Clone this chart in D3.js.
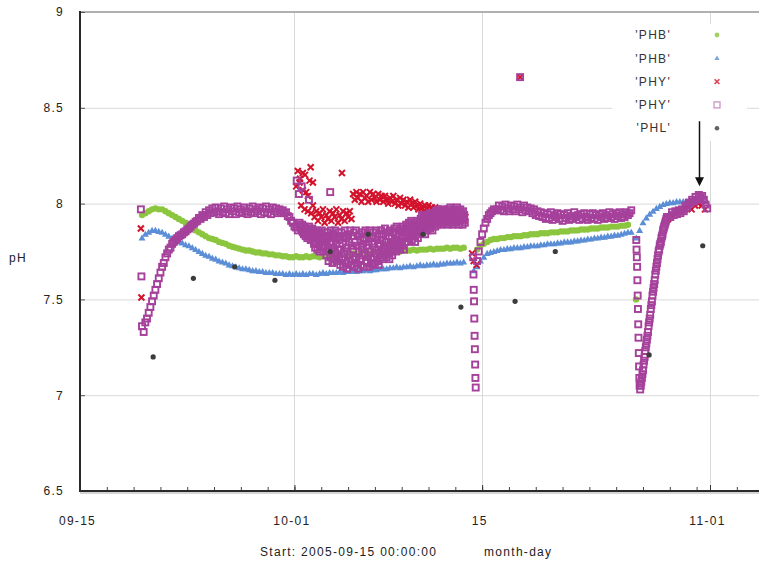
<!DOCTYPE html>
<html>
<head>
<meta charset="utf-8">
<script src="https://cdn.jsdelivr.net/npm/d3@7"></script>
<style>
  body { margin: 0; background: #fff; }
  svg { display: block; font-family: "Liberation Sans", Arial, sans-serif; }
</style>
</head>
<body>
<svg id="chart" width="759" height="562"></svg>
<script>
// ---- axis ticks and labels ----
const yTicks = [6.5, 7, 7.5, 8, 8.5, 9];
const xMajorTicks = ["2005-09-15 00:00", "2005-10-01 00:00", "2005-10-15 00:00", "2005-11-01 00:00"];
const xMajorLabels = ["09-15", "10-01", "15", "11-01"];
const seriesNames = ["'PHB'", "'PHB'", "'PHY'", "'PHY'", "'PHL'"];

// ---- readings: each segment = first timestamp, sampling interval (hours), values ----
const phbGreen = [
  { start: "2005-09-19 15:00", step: 6, values: [
    7.94,7.95,7.96,7.97,7.975, 7.97,7.97,7.96,7.95,7.94, 7.93,7.92,7.91,7.90,7.89,
    7.875,7.86,7.85,7.84,7.83, 7.82,7.815,7.81,7.80,7.795, 7.79,7.78,7.775,7.77,7.765,
    7.76,7.755,7.755,7.75,7.745, 7.745,7.74,7.74,7.735,7.735, 7.73,7.73,7.725,7.725,7.72,
    7.72,7.725,7.72,7.72,7.725, 7.72,7.725,7.725,7.72,7.725, 7.73,7.725,7.73,7.73,7.735,
    7.73,7.735,7.735,7.74,7.735, 7.74,7.74,7.745,7.74,7.745, 7.745,7.75,7.745,7.75,7.75,
    7.75,7.755,7.75,7.755,7.755, 7.755,7.76,7.755,7.76,7.76, 7.76,7.765,7.76,7.765,7.765,
    7.765,7.77,7.765,7.77,7.77, 7.765,7.77] },
  { start: "2005-10-14 15:00", step: 6, values: [
    7.76,7.78,7.79,7.80,7.81, 7.815,7.815,7.82,7.82,7.825, 7.825,7.83,7.83,7.83,7.835,
    7.835,7.84,7.84,7.84,7.845, 7.845,7.845,7.85,7.85,7.85, 7.855,7.855,7.855,7.86,7.86,
    7.86,7.865,7.865,7.865,7.87, 7.87,7.87,7.875,7.875,7.875, 7.88,7.88,7.88,7.885,7.885,7.89] }
];
const phbGreenSingles = [["2005-10-26 11:30", 7.50]];

const phbBlue = [
  { start: "2005-09-19 15:00", step: 6, values: [
    7.82,7.84,7.85,7.86,7.86, 7.855,7.85,7.84,7.83,7.82, 7.81,7.80,7.795,7.785,7.78,
    7.77,7.76,7.75,7.74,7.73, 7.725,7.715,7.71,7.70,7.695, 7.69,7.68,7.675,7.67,7.665,
    7.66,7.66,7.655,7.65,7.65, 7.645,7.645,7.64,7.64,7.64, 7.635,7.635,7.635,7.63,7.635,
    7.63,7.635,7.63,7.635,7.63, 7.635,7.635,7.63,7.635,7.64, 7.635,7.64,7.64,7.64,7.645,
    7.64,7.645,7.645,7.65,7.645, 7.65,7.65,7.655,7.65,7.655, 7.655,7.66,7.66,7.66,7.665,
    7.665,7.67,7.665,7.67,7.67, 7.675,7.67,7.675,7.68,7.675, 7.68,7.68,7.685,7.68,7.685,
    7.685,7.69,7.69,7.69,7.695, 7.69,7.695] },
  { start: "2005-10-14 09:00", step: 6, values: [
    7.65,7.67,7.70,7.72,7.74, 7.745,7.75,7.755,7.76,7.76, 7.765,7.765,7.77,7.77,7.77,
    7.775,7.775,7.78,7.78,7.78, 7.785,7.785,7.79,7.79,7.79, 7.795,7.795,7.80,7.80,7.80,
    7.805,7.805,7.81,7.81,7.815, 7.815,7.82,7.82,7.825,7.825, 7.83,7.83,7.835,7.835,7.84,
    7.845,7.85,7.85] },
  { start: "2005-10-26 12:00", step: 6, values: [
    7.82,7.86,7.90,7.925,7.945,7.96,7.975,7.985,7.995,8.0,8.005,8.005,8.01,8.01,8.01,
    8.01,8.015,8.01,8.01,8.015,8.01,8.01] }
];

const phyRed = [
  { start: "2005-10-01 09:00", step: 3, values: [
    8.11,7.99,8.16,7.97,8.06,7.96,8.12,7.95,7.99,7.93,
    7.96,7.91,7.95,7.93,7.97,7.90,7.94,7.92,7.96,7.91,
    7.95,7.93,7.97,7.90,7.94,7.92,7.96,7.91,7.95,7.93,
    7.96,7.92,
    8.05,8.02,8.06,8.03,8.05,8.01,8.06,8.03,
    8.04,8.01,8.06,8.02,8.05,8.03,8.01,8.05,8.02,8.04,
    8.01,8.04,8.02,8.00,8.03,8.01,8.04,8.00,8.02,7.99,
    8.03,8.00,8.02,7.99,8.01,7.98,8.02,8.00,7.98,8.01,
    7.99,7.97,8.00,7.98,7.96,7.99,7.97,7.99,7.96,7.98,
    7.96,7.98,7.95,7.97,7.94,7.97,7.95,7.93,7.96,7.94,
    7.95,7.92,7.95,7.93,7.91,7.94,7.92,7.95,7.91,7.93] },
  { start: "2005-10-28 21:00", step: 6, values: [
    7.92,7.94,7.95,7.96,7.96,7.97,7.98,7.97,7.99,8.00,7.99,7.97] }
];
const phyRedSingles = [
  ["2005-09-19 13:00", 7.87], ["2005-09-19 14:00", 7.51],
  ["2005-10-01 03:00", 8.09], ["2005-10-01 06:00", 8.17], ["2005-10-01 10:00", 8.13],
  ["2005-10-01 15:00", 8.07], ["2005-10-01 19:00", 8.15], ["2005-10-02 00:00", 8.04],
  ["2005-10-02 05:00", 8.19], ["2005-10-02 09:00", 8.11], ["2005-10-04 13:00", 8.16],
  ["2005-10-14 06:00", 7.74], ["2005-10-14 09:00", 7.70], ["2005-10-14 14:00", 7.68],
  ["2005-10-17 20:00", 8.66]
];

const phyPurple = [
  { start: "2005-09-19 15:00", step: 3, values: [
    7.36,7.33,7.38,7.40,7.43,7.46,7.49,7.52,7.55,7.58,7.61,7.64,7.67,7.69,7.72,7.74,
    7.76,7.77,7.79,7.80,7.81,7.82,7.83,7.835] },
  { start: "2005-09-22 15:00", step: 3, values: [
    7.84,7.85,7.855,7.865,7.87,7.88,7.89,7.895,7.905,7.91,
    7.925,7.92,7.94,7.93,7.955,7.94,7.965,7.95,7.975,7.955,
    7.98,7.96,7.945,7.975,7.955,7.985,7.95,7.97,7.945,7.98,
    7.96,7.975,7.945,7.985,7.955,7.97,7.95,7.98,7.96,7.945,
    7.975,7.955,7.985,7.95,7.97,7.96,7.98,7.945,7.975,7.955,
    7.985,7.95,7.97,7.945,7.98,7.96,7.975,7.95,7.97,7.955,
    7.965,7.95,7.955,7.935,7.93,7.91,7.90,7.88,7.875,7.86] },
  { start: "2005-10-01 09:00", step: 1, values: [
    7.90,7.89,7.87,7.88,7.86,7.89,7.85,7.87,7.84,7.88,7.86,7.83,7.87,7.85,7.82,7.86,7.84,7.88,7.83,7.85,7.81,7.86,7.84,7.87,
    7.82,7.86,7.79,7.84,7.77,7.83,7.80,7.86,7.76,7.82,7.79,7.85,7.75,7.81,7.84,7.78,7.86,7.77,7.82,7.75,7.80,7.85,7.78,7.83,
    7.73,7.81,7.85,7.76,7.70,7.83,7.79,7.72,7.86,7.75,7.80,7.69,7.84,7.77,7.71,7.82,7.86,7.74,7.79,7.70,7.83,7.76,7.85,7.72,
    7.81,7.68,7.76,7.85,7.71,7.79,7.67,7.83,7.74,7.86,7.69,7.77,7.82,7.66,7.75,7.84,7.70,7.80,7.73,7.86,7.68,7.78,7.83,7.71,
    7.76,7.85,7.67,7.80,7.72,7.86,7.69,7.78,7.83,7.66,7.75,7.84,7.71,7.81,7.68,7.77,7.85,7.73,7.79,7.67,7.82,7.74,7.86,7.70,
    7.78,7.69,7.84,7.73,7.80,7.67,7.86,7.75,7.71,7.82,7.68,7.79,7.85,7.72,7.77,7.69,7.83,7.74,7.86,7.70,7.81,7.76,7.68,7.84,
    7.79,7.72,7.86,7.75,7.81,7.71,7.84,7.77,7.73,7.87,7.76,7.80,7.72,7.85,7.78,7.74,7.83,7.71,7.86,7.79,7.75,7.82,7.73,7.85,
    7.80,7.76,7.87,7.78,7.84,7.75,7.88,7.81,7.77,7.86,7.79,7.83,7.76,7.87,7.80,7.85,7.78,7.88,7.82,7.76,7.86,7.80,7.84,7.89,
    7.83,7.88,7.80,7.86,7.90,7.82,7.87,7.84,7.91,7.81,7.86,7.89,7.83,7.90,7.85,7.80,7.88,7.84,7.91,7.86,7.82,7.89,7.87,7.90,
    7.86,7.92,7.88,7.94,7.85,7.90,7.93,7.87,7.91,7.84,7.92,7.89,7.94,7.86,7.90,7.93,7.88,7.95,7.87,7.91,7.89,7.94,7.86,7.92,
    7.90,7.95,7.92,7.88,7.96,7.91,7.94,7.89,7.97,7.92,7.95,7.90,7.93,7.96,7.89,7.94,7.91,7.97,7.93,7.90,7.95,7.92,7.96,7.91,
    7.94,7.89,7.97,7.92,7.95,7.90,7.98,7.93,7.91,7.96,7.89,7.94,7.97,7.92,7.95,7.90,7.96,7.93,7.98,7.91,7.94,7.89,7.96,7.92,
    7.97,7.91,7.95,7.93,7.89,7.96,7.92,7.94,7.90] },
  { start: "2005-10-14 08:00", step: 0.5, values: [
    7.72,7.63,7.55,7.49,7.40,7.31,7.24,7.16,7.09,7.04] },
  { start: "2005-10-14 15:00", step: 3, values: [
    7.70,7.75,7.80,7.84,7.87,7.90,7.92,7.94,7.95,7.96,7.97,7.965] },
  { start: "2005-10-16 03:00", step: 3, values: [
    7.97,7.99,7.965,7.985,7.96,7.995,7.975,7.96,7.99,7.97,
    7.985,7.96,7.995,7.97,7.98,7.955,7.99,7.965,7.98,7.96,
    7.975,7.95,7.97,7.94,7.96,7.935,7.955,7.93,7.95,7.92,
    7.945,7.925,7.955,7.915,7.94,7.93,7.95,7.92,7.945,7.91,
    7.94,7.925,7.95,7.915,7.935,7.92,7.955,7.93,7.94,7.915,
    7.945,7.92,7.95,7.93,7.915,7.945,7.925,7.95,7.92,7.94,
    7.915,7.945,7.93,7.95,7.92,7.94,7.925,7.955,7.93,7.945,
    7.92,7.95,7.935,7.955,7.925,7.945,7.93,7.955,7.94,7.95,
    7.965] },
  { start: "2005-10-26 12:00", step: 0.5, values: [
    7.81,7.76,7.72,7.67,7.60,7.52,7.45,7.37,7.30,7.22,7.15,7.09,7.05] },
  { start: "2005-10-26 19:00", step: 1, values: [
    7.03,7.05,7.07,7.09,7.11,7.13,7.16,7.18,7.20,7.23,7.25,7.27,7.29,7.31,7.33,7.36,
    7.38,7.40,7.42,7.45,7.47,7.49,7.52,7.54,7.56,7.58,7.60,7.63,7.65,7.67,7.69,7.71,
    7.73,7.75,7.76,7.78,7.79,7.80,7.82,7.83,7.84,7.86,7.87,7.88,7.89,7.90,7.91,7.92,7.93] },
  { start: "2005-10-29 01:00", step: 3, values: [
    7.93,7.955,7.94,7.96,7.945,7.965,7.95,7.97,7.96,7.99,7.98,8.005,8.0,8.02,8.01,
    8.035,8.02,8.045,8.03,8.04,8.02,7.995,7.975] }
];
const phyPurpleSingles = [
  ["2005-09-19 13:00", 7.97], ["2005-09-19 14:00", 7.62],
  ["2005-10-01 04:00", 8.12], ["2005-10-01 08:00", 8.05], ["2005-10-01 13:00", 8.09],
  ["2005-10-02 02:00", 8.02], ["2005-10-03 16:00", 8.06], ["2005-10-17 20:00", 8.66]
];

const phlGrey = [
  ["2005-09-20 11:00", 7.20], ["2005-09-23 11:00", 7.61], ["2005-09-26 13:00", 7.67],
  ["2005-09-29 13:00", 7.60], ["2005-10-03 16:00", 7.75], ["2005-10-06 12:00", 7.84],
  ["2005-10-10 14:00", 7.84], ["2005-10-13 10:00", 7.46], ["2005-10-17 11:00", 7.49],
  ["2005-10-20 11:00", 7.75], ["2005-10-27 11:00", 7.21], ["2005-10-31 11:00", 7.78]
];

// arrow annotation pointing at the end of the record
const arrowAt = "2005-10-31 04:00";
const arrowFrom = 8.43, arrowTo = 8.09;

// ---- helpers ----
const parse = d3.timeParse("%Y-%m-%d %H:%M");
const expand = segs => segs.flatMap(s => {
  const start = +parse(s.start);
  return s.values.map((v, i) => ({ t: new Date(start + i * s.step * 3600e3), v }));
});
const pairs = list => list.map(([s, v]) => ({ t: parse(s), v }));

// ---- layout ----
const svg = d3.select("#chart");
const padLeft = 80, padRight = 759, padTop = 12, padBottom = 491;
const tStart = parse(xMajorTicks[0]);
const x = d3.scaleTime().domain([tStart, parse(xMajorTicks[3])]).range([padLeft, 710]);
const xAxisScale = x.copy().domain([tStart, x.invert(padRight)]).range([padLeft, padRight]);
const y = d3.scaleLinear().domain([6.5, 9]).range([padBottom, padTop]);

const C = { green: "#8cc63f", blue: "#5b8ed6", red: "#d3122c", purple: "#a5409b", phl: "#3c3c3c" };
const FONT = "Liberation Sans, Arial, sans-serif";

// grid
const grid = svg.append("g").attr("stroke", "#d9d9d9").attr("stroke-width", 1);
grid.selectAll(".gy").data(yTicks.filter(v => v > 6.5 && v < 9)).join("line")
  .attr("x1", padLeft).attr("x2", padRight).attr("y1", d => y(d) + 0.5).attr("y2", d => y(d) + 0.5);
grid.selectAll(".gx").data(xMajorTicks.slice(1).map(parse)).join("line")
  .attr("x1", d => Math.round(x(d)) + 0.5).attr("x2", d => Math.round(x(d)) + 0.5)
  .attr("y1", padTop).attr("y2", padBottom);

// top frame line
svg.append("line").attr("x1", padLeft).attr("x2", padRight).attr("y1", padTop).attr("y2", padTop)
  .attr("stroke", "#b0b0b0").attr("stroke-width", 2);

// ---- markers ----
const plot = svg.append("g");
function drawDots(data, color, r) {
  plot.append("g").selectAll("circle").data(data).join("circle")
    .attr("cx", d => x(d.t)).attr("cy", d => y(d.v)).attr("r", r).attr("fill", color);
}
function drawTriangles(data, color) {
  plot.append("g").selectAll("path").data(data).join("path")
    .attr("transform", d => `translate(${x(d.t)},${y(d.v)})`)
    .attr("d", "M0,-3.6L3.5,2.5L-3.5,2.5Z").attr("fill", color);
}
function drawCrosses(data, color) {
  plot.append("g").selectAll("path").data(data).join("path")
    .attr("transform", d => `translate(${x(d.t)},${y(d.v)})`)
    .attr("d", "M-3,-3L3,3M-3,3L3,-3")
    .attr("stroke", color).attr("stroke-width", 2).attr("fill", "none");
}
function drawSquares(data, color) {
  plot.append("g").selectAll("rect").data(data).join("rect")
    .attr("x", d => x(d.t) - 3).attr("y", d => y(d.v) - 3).attr("width", 6).attr("height", 6)
    .attr("fill", "none").attr("stroke", color).attr("stroke-width", 1.9);
}

drawDots(expand(phbGreen).concat(pairs(phbGreenSingles)), C.green, 3.2);
drawTriangles(expand(phbBlue), C.blue);
drawCrosses(expand(phyRed).concat(pairs(phyRedSingles)), C.red);
drawSquares(expand(phyPurple).concat(pairs(phyPurpleSingles)), C.purple);
drawDots(pairs(phlGrey), C.phl, 2.6);

// ---- axes ----
const minorTicks = d3.timeDay.every(2).range(tStart, xAxisScale.domain()[1]);
svg.append("g").attr("transform", `translate(0,${padBottom})`)
  .call(d3.axisBottom(xAxisScale).tickValues(minorTicks).tickSize(-4).tickFormat(""))
  .call(g => g.select(".domain").remove())
  .call(g => g.selectAll("line").attr("stroke", "#444"));

svg.append("g").attr("transform", `translate(0,${padBottom})`)
  .call(d3.axisBottom(xAxisScale).tickValues(xMajorTicks.map(parse)).tickSize(-6).tickPadding(25)
    .tickFormat((d, i) => xMajorLabels[i]))
  .call(g => g.select(".domain").remove())
  .call(g => g.selectAll("line").attr("stroke", "#333"))
  .call(g => g.selectAll("text").attr("font-size", 12).attr("fill", "#222")
    .attr("font-family", FONT).attr("letter-spacing", 1.3).attr("dx", -3));

svg.append("g").attr("transform", `translate(${padLeft},0)`)
  .call(d3.axisLeft(y).tickValues(yTicks).tickSize(-5).tickPadding(16).tickFormat(d3.format("")))
  .call(g => g.select(".domain").remove())
  .call(g => g.selectAll("line").attr("stroke", "#555"))
  .call(g => g.selectAll("text").attr("font-size", 12).attr("fill", "#222")
    .attr("font-family", FONT).attr("letter-spacing", 1.3));

// axis lines
svg.append("line").attr("x1", padLeft).attr("x2", padRight).attr("y1", padBottom).attr("y2", padBottom)
  .attr("stroke", "#2a2a2a").attr("stroke-width", 2);
svg.append("line").attr("x1", padLeft).attr("x2", padRight).attr("y1", padBottom + 2).attr("y2", padBottom + 2)
  .attr("stroke", "#aaa").attr("stroke-width", 1);
svg.append("line").attr("x1", padLeft).attr("x2", padLeft).attr("y1", padTop - 1).attr("y2", padBottom + 1)
  .attr("stroke", "#2a2a2a").attr("stroke-width", 2);

// axis titles
const titles = svg.append("g").attr("font-size", 12).attr("fill", "#222").attr("letter-spacing", 1.3);
titles.append("text").attr("x", 9).attr("y", 262).text("pH");
titles.append("text").attr("x", 260).attr("y", 556)
  .text("Start: " + d3.timeFormat("%Y-%m-%d %H:%M:%S")(tStart));
titles.append("text").attr("x", 484).attr("y", 556).text("month-day");

// ---- legend ----
const legend = svg.append("g");
legend.append("rect").attr("x", 612).attr("y", 24).attr("width", 135).attr("height", 117).attr("fill", "#fff");
const legY = i => 35 + i * 23.3;
legend.selectAll("text").data(seriesNames).join("text")
  .attr("x", 671).attr("y", (d, i) => legY(i)).attr("dy", "0.35em").attr("text-anchor", "end")
  .attr("font-size", 12).attr("letter-spacing", 1.3).attr("fill", "#333").text(d => d);
const lx = 717;
legend.append("circle").attr("cx", lx).attr("cy", legY(0)).attr("r", 2.4).attr("fill", C.green).attr("opacity", 0.8);
legend.append("path").attr("transform", `translate(${lx},${legY(1)})`).attr("d", "M0,-2.8L2.6,1.8L-2.6,1.8Z").attr("fill", C.blue).attr("opacity", 0.8);
legend.append("path").attr("transform", `translate(${lx},${legY(2)})`).attr("d", "M-2.4,-2.4L2.4,2.4M-2.4,2.4L2.4,-2.4")
  .attr("stroke", C.red).attr("stroke-width", 1.6).attr("opacity", 0.8);
legend.append("rect").attr("x", lx - 3).attr("y", legY(3) - 3).attr("width", 6).attr("height", 6)
  .attr("fill", "none").attr("stroke", C.purple).attr("stroke-width", 1.2).attr("opacity", 0.6);
legend.append("circle").attr("cx", lx).attr("cy", legY(4)).attr("r", 2.3).attr("fill", C.phl).attr("opacity", 0.8);

// ---- arrow ----
const ax = Math.round(x(parse(arrowAt))) + 0.5;
svg.append("line").attr("x1", ax).attr("x2", ax).attr("y1", y(arrowFrom)).attr("y2", y(arrowTo) - 7)
  .attr("stroke", "#111").attr("stroke-width", 1.5);
svg.append("path").attr("transform", `translate(${ax},${y(arrowTo)})`)
  .attr("d", "M0,0L-4.5,-9L4.5,-9Z").attr("fill", "#111");
</script>
</body>
</html>
